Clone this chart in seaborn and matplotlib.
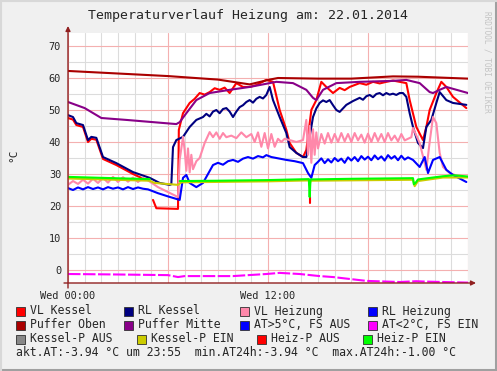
import matplotlib
matplotlib.use("Agg")
import numpy as np
import pandas as pd
import matplotlib.pyplot as plt
import seaborn as sns
from matplotlib.patches import Rectangle
from matplotlib.lines import Line2D
from matplotlib.ticker import MultipleLocator, FuncFormatter

nan = np.nan

# --- data (hours since Wed 00:00, temperature in °C) ---
vl_kessel_h = [0, 0.3, 0.5, 0.9, 1.2, 1.4, 1.7, 2.1, 2.9, 3.9,
               4.6, 4.8, 5.1, 5.3, 6.6, 6.65, 6.9, 7.3, 7.6, 7.9,
               8.2, 8.5, 8.8, 9.1, 9.4, 9.7, 10.1, 10.5, 10.9, 11.3,
               11.6, 11.9, 12.3, 12.7, 13.1, 13.3, 13.7, 14.1, 14.3, 14.6,
               14.9, 15.2, 15.5, 15.9, 16.3, 16.6, 16.9, 17.2, 17.5, 17.9,
               18.3, 18.7, 19.1, 19.5, 19.9, 20.3, 20.5, 20.9, 21.3, 21.5,
               21.7, 22.1, 22.4, 22.7, 23.1, 23.9]
vl_kessel_v = [47.5, 47.0, 45.3, 44.7, 40.0, 41.0, 40.7, 34.7, 32.8, 30.0,
               28.3, nan, 21.9, 19.3, 19.1, 43.8, 49.0, 52.2, 53.5, 55.3,
               54.8, 55.6, 56.8, 56.3, 57.0, 55.3, 58.4, 57.2, 57.2, 57.8,
               58.6, 59.4, 58.8, 50.0, 43.8, 39.7, 36.6, 35.3, 37.5, 50.0,
               53.1, 58.8, 57.2, 55.3, 56.9, 56.2, 57.2, 57.8, 58.4, 57.9,
               58.8, 58.3, 58.8, 59.2, 58.8, 58.4, 53.1, 44.7, 40.6, 44.7,
               50.0, 55.3, 58.8, 57.2, 54.1, 50.6]

rl_kessel_h = [0, 0.3, 0.5, 0.9, 1.2, 1.4, 1.7, 2.1, 2.9, 3.9,
               4.9, 5.5, 6.1, 6.2, 6.3, 6.5, 6.9, 7.3, 7.7, 8.1,
               8.3, 8.5, 8.7, 8.9, 9.1, 9.3, 9.5, 9.7, 9.9, 10.1,
               10.3, 10.5, 10.7, 10.9, 11.1, 11.3, 11.5, 11.7, 11.9, 12.1,
               12.3, 12.7, 13.1, 13.3, 13.7, 14.1, 14.3, 14.5, 14.7, 14.9,
               15.1, 15.3, 15.5, 15.7, 15.9, 16.1, 16.3, 16.5, 16.7, 16.9,
               17.1, 17.3, 17.5, 17.7, 17.9, 18.1, 18.3, 18.5, 18.7, 18.9,
               19.1, 19.3, 19.5, 19.7, 19.9, 20.1, 20.3, 20.5, 20.7, 21.0,
               21.3, 21.5, 21.8, 22.1, 22.3, 22.7, 23.1, 23.9]
rl_kessel_v = [48.4, 47.8, 45.9, 45.3, 40.6, 41.6, 41.3, 35.3, 33.4, 30.6,
               28.8, 27.2, 26.6, 26.8, 38.4, 40.6, 41.6, 44.7, 46.9, 47.8,
               48.8, 48.0, 49.5, 50.0, 49.0, 50.3, 50.6, 49.5, 47.8, 49.5,
               50.9, 51.5, 52.5, 53.1, 52.3, 53.5, 54.1, 53.6, 54.7, 57.2,
               53.1, 47.8, 42.8, 38.4, 36.6, 35.3, 35.3, 41.6, 47.8, 50.5,
               52.2, 53.0, 52.5, 53.1, 51.5, 50.0, 49.4, 50.5, 51.6, 52.2,
               52.8, 53.3, 53.8, 53.2, 54.3, 54.7, 54.0, 55.0, 55.3, 54.6,
               55.3, 54.8, 55.1, 54.7, 55.3, 55.3, 54.1, 49.0, 44.7, 39.7,
               38.1, 44.7, 46.9, 52.2, 55.6, 53.1, 52.2, 51.6]

vl_heiz_h = [0, 0.3, 0.6, 0.9, 1.2, 1.5, 1.8, 2.1, 2.4, 2.7,
             3.0, 3.3, 3.6, 3.9, 4.2, 4.5, 4.8, 5.4, 6.6, 6.7,
             6.9, 7.0, 7.1, 7.2, 7.3, 7.4, 7.5, 7.7, 7.9, 8.2,
             8.5, 8.7, 8.9, 9.1, 9.3, 9.5, 9.8, 10.1, 10.4, 10.7,
             11.0, 11.2, 11.4, 11.6, 11.8, 12.0, 12.2, 12.4, 12.6, 12.8,
             13.0, 13.3, 13.7, 14.1, 14.3, 14.4, 14.5, 14.6, 14.7, 14.8,
             14.9, 15.0, 15.2, 15.4, 15.6, 15.8, 16.0, 16.2, 16.4, 16.6,
             16.8, 17.0, 17.2, 17.4, 17.6, 17.8, 18.0, 18.2, 18.4, 18.6,
             18.8, 19.0, 19.2, 19.4, 19.6, 19.8, 20.0, 20.2, 20.6, 20.7,
             21.1, 21.5, 21.7, 21.9, 22.1, 22.3, 22.5, 22.9, 23.5, 24.0]
vl_heiz_v = [26.6, 27.8, 26.9, 28.2, 27.0, 28.5, 27.2, 28.8, 27.3, 29.1,
             27.5, 29.0, 27.6, 28.9, 27.5, 28.8, 28.0, 25.9, 22.8, 34.4,
             41.6, 37.5, 31.0, 38.0, 30.5, 36.0, 31.5, 34.0, 35.0, 39.7,
             43.1, 41.5, 43.0, 41.0, 42.8, 41.5, 42.0, 41.2, 43.0, 41.5,
             42.5, 40.0, 43.0, 38.5, 42.8, 38.0, 42.5, 38.5, 41.0, 40.0,
             41.0, 40.6, 40.0, 40.6, 46.9, 36.0, 45.0, 33.5, 44.0, 36.0,
             43.0, 38.0, 42.5, 39.5, 42.8, 39.8, 42.5, 40.0, 42.8, 40.2,
             42.5, 40.0, 42.8, 40.5, 42.3, 39.8, 42.6, 40.0, 42.8, 40.3,
             42.5, 40.0, 42.8, 40.5, 42.0, 40.2, 42.5, 40.5, 41.5, 44.4,
             39.7, 31.3, 40.0, 47.8, 45.9, 36.6, 32.2, 30.3, 29.1, 29.1]

rl_heiz_h = [0, 0.3, 0.6, 0.9, 1.2, 1.5, 1.8, 2.1, 2.4, 2.7,
             3.0, 3.3, 3.6, 3.9, 4.2, 4.5, 4.8, 5.4, 6.0, 6.7,
             6.9, 7.1, 7.3, 7.7, 8.1, 8.7, 9.0, 9.3, 9.6, 9.9,
             10.2, 10.5, 10.8, 11.1, 11.4, 11.7, 11.9, 12.2, 12.5, 13.1,
             13.6, 14.1, 14.4, 14.6, 14.8, 15.0, 15.2, 15.4, 15.6, 15.8,
             16.0, 16.2, 16.4, 16.6, 16.8, 17.0, 17.2, 17.4, 17.6, 17.8,
             18.0, 18.2, 18.4, 18.6, 18.8, 19.0, 19.2, 19.4, 19.6, 19.8,
             20.0, 20.2, 20.4, 20.7, 21.1, 21.4, 21.6, 21.9, 22.3, 22.7,
             23.1, 23.9]
rl_heiz_v = [25.6, 25.0, 25.8, 25.2, 25.9, 25.3, 25.8, 25.2, 25.9, 25.4,
             25.8, 25.2, 25.9, 25.3, 25.8, 25.4, 25.2, 24.0, 23.0, 21.9,
             28.8, 29.7, 27.2, 25.9, 27.2, 32.8, 33.5, 32.9, 34.0, 34.4,
             33.8, 34.8, 35.3, 34.8, 35.6, 35.2, 35.9, 35.3, 35.0, 34.4,
             34.0, 33.4, 30.3, 28.8, 32.8, 33.8, 34.9, 33.4, 34.6, 33.6,
             35.0, 34.0, 34.8, 33.5, 35.2, 34.2, 35.3, 34.0, 35.6, 34.5,
             35.4, 34.3, 35.8, 34.6, 35.5, 34.2, 35.9, 34.8, 35.6, 34.3,
             35.7, 34.5, 35.2, 34.4, 32.2, 35.3, 30.3, 34.4, 35.3, 31.3,
             29.7, 27.5]

puffer_oben_h = [0, 3, 6, 9, 10.9, 12.1, 12.6, 15, 17, 19.5, 21, 24]
puffer_oben_v = [62.2, 61.4, 60.6, 59.5, 58.0, 59.5, 60.0, 59.8, 59.8, 60.5, 60.4, 59.8]

puffer_mitte_h = [0, 1.0, 2.0, 3.5, 6.5, 6.7, 7.1, 7.7, 8.5, 9.7,
                  10.9, 12.1, 12.5, 13.5, 14.3, 14.7, 14.9, 15.3, 16.1, 17.5,
                  19.5, 20.3, 21.1, 21.7, 21.9, 22.3, 22.7, 24]
puffer_mitte_v = [52.5, 50.6, 47.5, 46.9, 45.6, 46.2, 49.0, 53.1, 55.3, 56.3,
                  57.2, 58.4, 58.8, 58.4, 56.3, 53.8, 53.1, 56.3, 58.4, 58.8,
                  59.1, 59.4, 58.4, 55.6, 55.3, 56.3, 57.2, 55.3]

at_kalt_h = [0, 3, 6.0, 6.6, 7.0, 9.9, 11.9, 12.7, 13.9, 15.1, 15.9, 17.9, 19.9, 20.9, 21.3, 22.9, 24]
at_kalt_v = [-1.25, -1.4, -1.6, -2.2, -1.9, -1.9, -1.25, -0.9, -1.25, -1.9, -2.2, -3.4, -3.75, -3.5, -3.6, -3.8, -3.94]

kessel_p_ein_h = [0, 4.9, 5.2, 6.6, 6.8, 12, 14.45, 14.5, 14.55, 20.7, 20.8, 21.0, 22.5, 24]
kessel_p_ein_v = [28.6, 27.9, 27.2, 26.6, 27.4, 27.7, 28.0, 26.5, 27.9, 28.2, 26.2, 27.8, 28.9, 28.9]

heiz_p_ein_h = [0, 2, 4.9, 5.0, 6.7, 9, 12, 14.45, 14.5, 14.55, 17, 20.7, 20.75, 20.85, 21.0, 22.5, 23.2, 24]
heiz_p_ein_v = [29.1, 28.8, 28.4, nan, 27.8, 27.9, 28.1, 28.4, 22.8, 28.3, 28.5, 28.7, 26.8, 27.2, 28.3, 29.3, 29.6, 29.2]

heiz_p_aus_h = [14.5, 14.5]
heiz_p_aus_v = [22.8, 20.8]

# draw order, colors
series = [
    ("VL Kessel", vl_kessel_h, vl_kessel_v, "#ff0000"),
    ("RL Kessel", rl_kessel_h, rl_kessel_v, "#000080"),
    ("VL Heizung", vl_heiz_h, vl_heiz_v, "#ff88aa"),
    ("RL Heizung", rl_heiz_h, rl_heiz_v, "#0000ff"),
    ("Puffer Oben", puffer_oben_h, puffer_oben_v, "#aa0000"),
    ("Puffer Mitte", puffer_mitte_h, puffer_mitte_v, "#880088"),
    ("Kessel-P EIN", kessel_p_ein_h, kessel_p_ein_v, "#cccc00"),
    ("Heiz-P AUS", heiz_p_aus_h, heiz_p_aus_v, "#ff0000"),
    ("Heiz-P EIN", heiz_p_ein_h, heiz_p_ein_v, "#00ff00"),
]


def to_frame(h, v):
    df = pd.DataFrame({"h": h, "v": v})
    df["seg"] = df["v"].isna().cumsum()
    return df.dropna()


sns.set_style("white")
plt.rcParams["font.family"] = ["DejaVu Sans Mono"]

W, H = 497, 371
fig = plt.figure(figsize=(W / 100, H / 100), dpi=100, facecolor="#f0f0f0")
ax = fig.add_axes([68 / W, (H - 283) / H, 400 / W, 250 / H])
ax.set_facecolor("white")
ax.set_xlim(0, 24)
ax.set_ylim(-4.06, 74.06)

# grid: gray minor, red major
ax.xaxis.set_major_locator(MultipleLocator(6))
ax.xaxis.set_minor_locator(MultipleLocator(1))
ax.yaxis.set_major_locator(MultipleLocator(10))
ax.yaxis.set_minor_locator(MultipleLocator(5))
ax.grid(which="minor", color="#dcdcdc", lw=0.8)
ax.grid(which="major", color="#f4b0b0", lw=0.8)
ax.set_axisbelow(True)
ax.xaxis.set_major_formatter(FuncFormatter(
    lambda x, p: {0: "Wed 00:00", 12: "Wed 12:00"}.get(int(round(x)), "")))
ax.tick_params(which="both", length=3, width=0.7, color="#888888",
               labelsize=7.4, pad=2)
ax.tick_params(axis="x", pad=3)
for s in ax.spines.values():
    s.set_visible(False)

for name, h, v, c in series:
    df = to_frame(h, v)
    sns.lineplot(data=df, x="h", y="v", units="seg", estimator=None,
                 sort=False, color=c, lw=1.5, ax=ax, legend=False)

sns.lineplot(x=at_kalt_h, y=at_kalt_v, color="#ff00ff", lw=1.5, ax=ax,
             estimator=None, sort=False, legend=False,
             dashes=False, linestyle=(0, (6, 1.2)))
ax.set_xlabel("")
ax.set_ylabel("")

# axes with arrows
axc = "#902020"
ax.annotate("", xy=(0, 1.0 + 7 / 250), xytext=(0, -5 / 250),
            xycoords="axes fraction",
            arrowprops=dict(arrowstyle="-|>", color=axc, lw=1, mutation_scale=7,
                            shrinkA=0, shrinkB=0), annotation_clip=False)
ax.annotate("", xy=(1.0 + 8 / 400, 0), xytext=(-4 / 400, 0),
            xycoords="axes fraction",
            arrowprops=dict(arrowstyle="-|>", color=axc, lw=1, mutation_scale=7,
                            shrinkA=0, shrinkB=0), annotation_clip=False)

# texts
fig.text(248 / W, 1 - 16 / H, "Temperaturverlauf Heizung am: 22.01.2014",
         ha="center", va="center", fontsize=9.5)
fig.text(13 / W, 1 - 155 / H, "°C", rotation=90, ha="center", va="center",
         fontsize=8)
fig.text(487 / W, 1 - 62 / H, "RRDTOOL / TOBI OETIKER", rotation=270,
         ha="center", va="center", fontsize=5.6, color="#c4c4c4")

legend_rows = [
    [("VL Kessel", "#ff0000", 16), ("RL Kessel", "#000080", 124),
     ("VL Heizung", "#ff88aa", 240), ("RL Heizung", "#0000ff", 368)],
    [("Puffer Oben", "#aa0000", 16), ("Puffer Mitte", "#880088", 124),
     ("AT>5°C, FS AUS", "#0000ff", 240), ("AT<2°C, FS EIN", "#ff00ff", 368)],
    [("Kessel-P AUS", "#888888", 16), ("Kessel-P EIN", "#cccc00", 137),
     ("Heiz-P AUS", "#ff0000", 257), ("Heiz-P EIN", "#00ff00", 363)],
]
row_y = [311, 325, 339]
for y, row in zip(row_y, legend_rows):
    for label, c, x in row:
        fig.add_artist(Rectangle((x / W, 1 - (y + 4.5) / H), 9 / W, 9 / H,
                                 transform=fig.transFigure, facecolor=c,
                                 edgecolor="#303030", lw=0.6))
        fig.text((x + 14) / W, 1 - y / H, label, ha="left", va="center",
                 fontsize=8.3)
fig.text(16 / W, 1 - 353 / H,
         "akt.AT:-3.94 °C um 23:55  min.AT24h:-3.94 °C  max.AT24h:-1.00 °C",
         ha="left", va="center", fontsize=8.3)

# frame of the picture
fig.add_artist(Line2D([1 - 1.5 / W, 1 - 1.5 / W], [0, 1], color="#a0a0a0", lw=2.2,
                      transform=fig.transFigure))
fig.add_artist(Line2D([0, 1], [1.5 / H, 1.5 / H], color="#a0a0a0", lw=2.2,
                      transform=fig.transFigure))
fig.add_artist(Line2D([1 / W, 1 / W], [0, 1], color="#d8d8d8", lw=1.5,
                      transform=fig.transFigure))
fig.add_artist(Line2D([0, 1], [1 - 1 / H, 1 - 1 / H], color="#d8d8d8", lw=1.5,
                      transform=fig.transFigure))

fig.savefig("out.png", dpi=100, facecolor=fig.get_facecolor())
